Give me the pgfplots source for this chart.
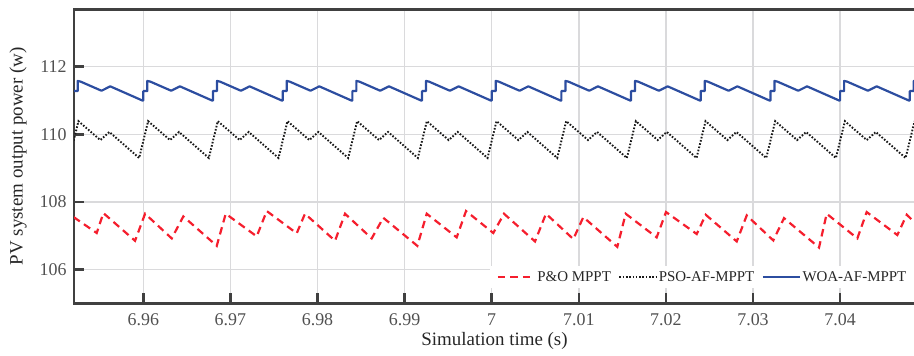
\documentclass[border=0pt]{standalone}
\usepackage{pgfplots}
\pgfplotsset{compat=1.18}
\usepackage{fontspec}
\setmainfont{Liberation Serif}
\definecolor{framegray}{RGB}{64,64,64}
\definecolor{gridgray}{RGB}{218,218,220}
\definecolor{ticklab}{RGB}{80,80,80}
\definecolor{woablue}{RGB}{44,77,160}
\definecolor{pored}{RGB}{245,30,45}
\begin{document}
\begin{tikzpicture}
\begin{axis}[
 scale only axis, width=841bp, height=294bp,
 xmin=6.95204, xmax=7.04860, ymin=105, ymax=113.7,
 xtick={6.96,6.97,6.98,6.99,7,7.01,7.02,7.03,7.04},
 xticklabels={6.96,6.97,6.98,6.99,7,7.01,7.02,7.03,7.04},
 ytick={106,108,110,112}, yticklabels={106,108,110,112},
 tick pos=left, tick align=inside,
 major tick length=10bp,
 every tick/.style={line width=2.5bp, color=framegray},
 axis line style={line width=2.7bp, color=framegray},
 grid=major, major grid style={line width=1.5bp, color=gridgray},
 ticklabel style={font=\fontsize{18}{20}\selectfont, color=ticklab},
 xticklabel style={anchor=base, yshift=-22bp, inner sep=0pt},
 yticklabel style={anchor=east, inner sep=0pt, xshift=-7.3bp},
 xlabel={Simulation time (s)}, ylabel={PV system output power (w)},
 label style={font=\fontsize{19}{21}\selectfont, color=black!85},
 xlabel style={at={(rel axis cs:0.5,-0.1446)}, anchor=base, inner sep=0pt},
 ylabel style={at={(rel axis cs:-0.0666,0.5)}, anchor=center, inner sep=0pt},
 legend columns=3,
 legend style={at={(rel axis cs:1,0.1269)}, anchor=north east, draw=none, fill=white,
   font=\fontsize{15}{17}\selectfont, text=black!85, inner xsep=7bp, inner ysep=3bp,
   /tikz/every even column/.append style={column sep=6bp},
   nodes={inner xsep=1.5bp}},
 legend cell align=left,
 legend image code/.code={\draw[#1] (0bp,0bp) -- (37bp,0bp);},
]
\addplot[pored, line width=2.2bp, dash pattern=on 7.5bp off 5bp] coordinates {
(6.95200,107.55) (6.95465,107.08) (6.95541,107.67) (6.95905,106.85) (6.96020,107.65)
(6.96326,106.92) (6.96459,107.57) (6.96843,106.70) (6.96946,107.65) (6.97302,106.98)
(6.97417,107.73) (6.97761,107.07) (6.97856,107.65) (6.98201,106.85) (6.98316,107.65)
(6.98622,106.92) (6.98755,107.53) (6.99146,106.70) (6.99254,107.65) (6.99598,106.95)
(6.99705,107.73) (7.00018,107.08) (7.00141,107.65) (7.00497,106.83) (7.00623,107.65)
(7.00937,106.90) (7.01052,107.55) (7.01442,106.67) (7.01538,107.65) (7.01894,106.95)
(7.02001,107.70) (7.02354,107.05) (7.02457,107.62) (7.02813,106.83) (7.02928,107.60)
(7.03233,106.86) (7.03356,107.52) (7.03758,106.65) (7.03846,107.65) (7.04198,106.92)
(7.04305,107.70) (7.04657,107.02) (7.04765,107.62) (7.04870,107.36)
};
\addlegendentry{P\&O MPPT}
\addplot[black!90, line width=1.9bp, dash pattern=on 1.6bp off 1.7bp] coordinates {
(6.95200,109.81)
(6.95255,110.39) (6.95506,109.83) (6.95610,110.07) (6.95952,109.30)
(6.96055,110.39) (6.96306,109.83) (6.96410,110.07) (6.96752,109.30)
(6.96855,110.39) (6.97106,109.83) (6.97210,110.07) (6.97552,109.30)
(6.97655,110.39) (6.97906,109.83) (6.98010,110.07) (6.98352,109.30)
(6.98455,110.39) (6.98706,109.83) (6.98810,110.07) (6.99152,109.30)
(6.99255,110.39) (6.99506,109.83) (6.99610,110.07) (6.99952,109.30)
(7.00055,110.39) (7.00306,109.83) (7.00410,110.07) (7.00752,109.30)
(7.00855,110.39) (7.01106,109.83) (7.01210,110.07) (7.01552,109.30)
(7.01655,110.39) (7.01906,109.83) (7.02010,110.07) (7.02352,109.30)
(7.02455,110.39) (7.02706,109.83) (7.02810,110.07) (7.03152,109.30)
(7.03255,110.39) (7.03506,109.83) (7.03610,110.07) (7.03952,109.30)
(7.04055,110.39) (7.04306,109.83) (7.04410,110.07) (7.04752,109.30)
(7.04855,110.39)
};
\addlegendentry{PSO-AF-MPPT}
\addplot[woablue, line width=2.2bp, line join=round] coordinates {
(6.95200,111.28) (6.95246,111.28) (6.95246,111.58) (6.95280,111.56) (6.95520,111.29) (6.95620,111.42) (6.95990,111.00) (6.96000,111.00)
(6.96000,111.28) (6.96046,111.28) (6.96046,111.58) (6.96080,111.56) (6.96320,111.29) (6.96420,111.42) (6.96790,111.00) (6.96800,111.00)
(6.96800,111.28) (6.96846,111.28) (6.96846,111.58) (6.96880,111.56) (6.97120,111.29) (6.97220,111.42) (6.97590,111.00) (6.97600,111.00)
(6.97600,111.28) (6.97646,111.28) (6.97646,111.58) (6.97680,111.56) (6.97920,111.29) (6.98020,111.42) (6.98390,111.00) (6.98400,111.00)
(6.98400,111.28) (6.98446,111.28) (6.98446,111.58) (6.98480,111.56) (6.98720,111.29) (6.98820,111.42) (6.99190,111.00) (6.99200,111.00)
(6.99200,111.28) (6.99246,111.28) (6.99246,111.58) (6.99280,111.56) (6.99520,111.29) (6.99620,111.42) (6.99990,111.00) (7.00000,111.00)
(7.00000,111.28) (7.00046,111.28) (7.00046,111.58) (7.00080,111.56) (7.00320,111.29) (7.00420,111.42) (7.00790,111.00) (7.00800,111.00)
(7.00800,111.28) (7.00846,111.28) (7.00846,111.58) (7.00880,111.56) (7.01120,111.29) (7.01220,111.42) (7.01590,111.00) (7.01600,111.00)
(7.01600,111.28) (7.01646,111.28) (7.01646,111.58) (7.01680,111.56) (7.01920,111.29) (7.02020,111.42) (7.02390,111.00) (7.02400,111.00)
(7.02400,111.28) (7.02446,111.28) (7.02446,111.58) (7.02480,111.56) (7.02720,111.29) (7.02820,111.42) (7.03190,111.00) (7.03200,111.00)
(7.03200,111.28) (7.03246,111.28) (7.03246,111.58) (7.03280,111.56) (7.03520,111.29) (7.03620,111.42) (7.03990,111.00) (7.04000,111.00)
(7.04000,111.28) (7.04046,111.28) (7.04046,111.58) (7.04080,111.56) (7.04320,111.29) (7.04420,111.42) (7.04790,111.00) (7.04800,111.00)
(7.04800,111.28) (7.04846,111.28) (7.04846,111.58) (7.04880,111.56)
};
\addlegendentry{WOA-AF-MPPT}
\end{axis}
\pgfresetboundingbox
\useasboundingbox ([shift={(-74bp,-52.7bp)}]current axis.south west) rectangle ([shift={(-1bp,9.3bp)}]current axis.north east);
\end{tikzpicture}
\end{document}
